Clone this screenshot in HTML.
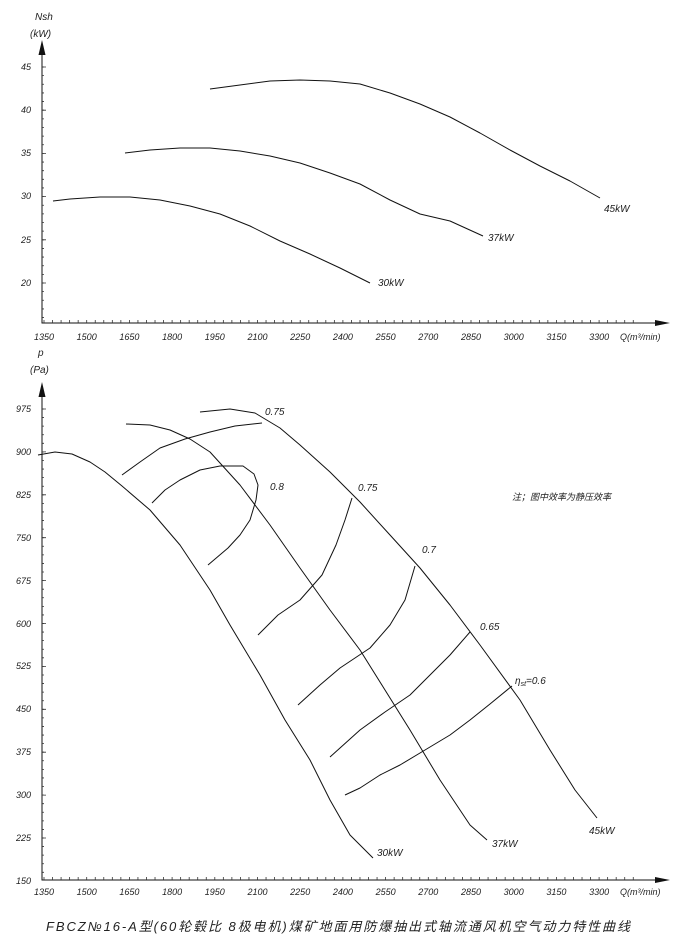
<!DOCTYPE html>
<html><head><meta charset="utf-8"><style>
html,body{margin:0;padding:0;background:#fff;}
svg{display:block;}
text{font-family:"Liberation Sans","Noto Sans CJK SC",sans-serif;font-style:italic;fill:#222;}
</style></head><body>
<svg width="687" height="950" viewBox="0 0 687 950" xmlns="http://www.w3.org/2000/svg">
<g stroke="#111" stroke-width="1" fill="none" stroke-linejoin="round" stroke-linecap="round">
<line x1="42" y1="48" x2="42" y2="323"/>
<line x1="42" y1="323" x2="660" y2="323"/>
<line x1="42" y1="390" x2="42" y2="880"/>
<line x1="42" y1="880" x2="660" y2="880"/>
</g>
<polygon points="42,40 38.5,55 45.5,55" fill="#111"/>
<polygon points="670,323 655,320 655,326" fill="#111"/>
<polygon points="42,382 38.5,397 45.5,397" fill="#111"/>
<polygon points="670,880 655,877 655,883" fill="#111"/>
<g stroke="#333" fill="none">
<line x1="44" y1="321" x2="44" y2="321" />
<line x1="43.6" y1="321.5" x2="640" y2="321.5" stroke-width="3" stroke-dasharray="0.8 7.74"/>
<line x1="43.6" y1="878.5" x2="640" y2="878.5" stroke-width="3" stroke-dasharray="0.8 7.74"/>
<line x1="43" y1="66.6" x2="43" y2="322" stroke-width="2" stroke-dasharray="0.8 7.84"/>
<line x1="44" y1="66.6" x2="44" y2="322" stroke-width="4" stroke-dasharray="0.8 42.4"/>
<line x1="43" y1="408.6" x2="43" y2="878" stroke-width="2" stroke-dasharray="0.8 7.78"/>
<line x1="44" y1="408.6" x2="44" y2="878" stroke-width="4" stroke-dasharray="0.8 42.1"/>
</g>
<g stroke="#111" stroke-width="1" fill="none" stroke-linejoin="round">
<polyline points="53,201 70,199 100,197 130,197 160,200 190,206 220,214 250,226 280,241 310,254 340,268 370,283"/>
<polyline points="125,153 150,150 180,148 210,148 240,151 270,156 300,163 330,173 360,184 390,200 420,214 450,221 483,236"/>
<polyline points="210,89 240,85 270,81 300,80 330,81 360,84 390,93 420,104 450,117 480,133 510,150 540,166 570,181 600,198"/>
<polyline points="38,455 55,452 72,454 90,462 105,472 122,486 150,510 180,545 210,590 230,625 260,675 285,720 310,760 330,800 350,835 373,858"/>
<polyline points="126,424 150,425 170,430 190,439 210,452 240,485 270,525 300,568 330,610 360,650 385,690 410,730 440,780 470,825 487,840"/>
<polyline points="200,412 230,409 255,413 280,428 300,445 330,472 360,502 390,535 420,568 450,605 480,645 520,700 550,750 575,790 597,818"/>
<polyline points="122,475 140,462 160,448 185,439 210,432 235,426 262,423"/>
<polyline points="152,503 165,490 180,480 200,470 220,466 243,466 254,474 258,485 256,500 250,520 240,535 228,548 208,565"/>
<polyline points="352,498 345,520 336,545 322,575 300,600 278,615 258,635"/>
<polyline points="415,566 405,600 390,625 370,648 340,668 320,685 298,705"/>
<polyline points="470,632 450,655 430,675 410,695 385,712 360,730 330,757"/>
<polyline points="512,686 490,704 470,720 450,735 425,750 400,765 380,775 360,788 345,795"/>
</g>
<g font-size="10">
<text x="35" y="20">Nsh</text>
<text x="30" y="37">(kW)</text>
<text x="38" y="356">p</text>
<text x="30" y="373">(Pa)</text>
<text x="378" y="286">30kW</text>
<text x="488" y="241">37kW</text>
<text x="604" y="212">45kW</text>
<text x="377" y="856">30kW</text>
<text x="492" y="847">37kW</text>
<text x="589" y="834">45kW</text>
<text x="265" y="415">0.75</text>
<text x="270" y="490">0.8</text>
<text x="358" y="491">0.75</text>
<text x="422" y="553">0.7</text>
<text x="480" y="630">0.65</text>
<text x="515" y="684">η<tspan font-size="7" dy="2">st</tspan><tspan dy="-2">=0.6</tspan></text>
<text x="512" y="500" font-size="9" font-style="normal">注；图中效率为静压效率</text>
<text x="620" y="340" font-size="9">Q(m³/min)</text>
<text x="620" y="895" font-size="9">Q(m³/min)</text>
<text x="46" y="931" font-size="13" textLength="584" lengthAdjust="spacing">FBCZ№16-A型(60轮毂比 8极电机)煤矿地面用防爆抽出式轴流通风机空气动力特性曲线</text>
</g>
<g font-size="9" text-anchor="middle">
<text x="44" y="340">1350</text><text x="86.7" y="340">1500</text><text x="129.4" y="340">1650</text><text x="172.1" y="340">1800</text><text x="214.8" y="340">1950</text><text x="257.5" y="340">2100</text><text x="300.2" y="340">2250</text><text x="342.9" y="340">2400</text><text x="385.6" y="340">2550</text><text x="428.3" y="340">2700</text><text x="471" y="340">2850</text><text x="513.7" y="340">3000</text><text x="556.4" y="340">3150</text><text x="599.1" y="340">3300</text>
<text x="44" y="895">1350</text><text x="86.7" y="895">1500</text><text x="129.4" y="895">1650</text><text x="172.1" y="895">1800</text><text x="214.8" y="895">1950</text><text x="257.5" y="895">2100</text><text x="300.2" y="895">2250</text><text x="342.9" y="895">2400</text><text x="385.6" y="895">2550</text><text x="428.3" y="895">2700</text><text x="471" y="895">2850</text><text x="513.7" y="895">3000</text><text x="556.4" y="895">3150</text><text x="599.1" y="895">3300</text>
</g>
<g font-size="9" text-anchor="end">
<text x="31" y="70">45</text><text x="31" y="113">40</text><text x="31" y="156">35</text><text x="31" y="199">30</text><text x="31" y="243">25</text><text x="31" y="286">20</text>
<text x="31" y="412">975</text><text x="31" y="455">900</text><text x="31" y="498">825</text><text x="31" y="541">750</text><text x="31" y="584">675</text><text x="31" y="627">600</text><text x="31" y="669">525</text><text x="31" y="712">450</text><text x="31" y="755">375</text><text x="31" y="798">300</text><text x="31" y="841">225</text><text x="31" y="884">150</text>
</g>
</svg>
</body></html>
